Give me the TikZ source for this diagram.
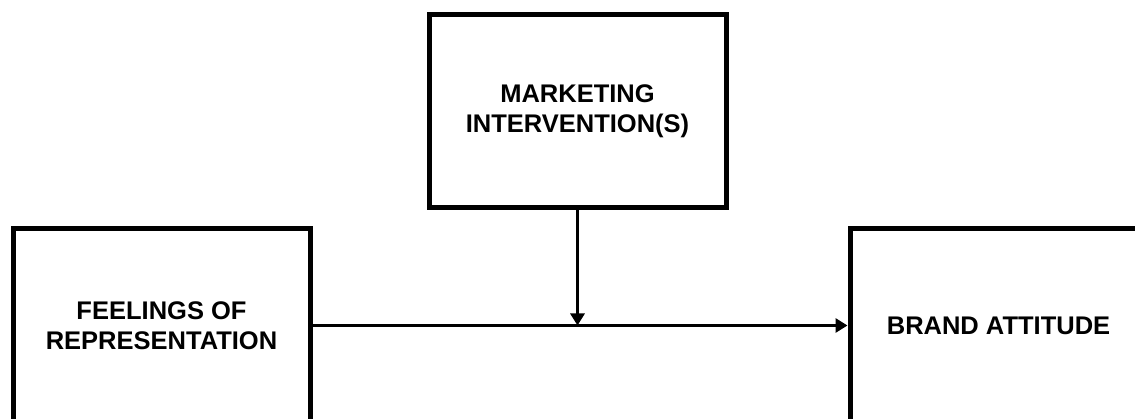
\documentclass[tikz,border=0pt]{standalone}
\usepackage{fontspec}
\setmainfont{Liberation Sans}
\usetikzlibrary{arrows.meta,positioning}

\tikzset{
  factor/.style={draw,line width=5pt,minimum width=297pt,minimum height=193pt,
    align=center,inner sep=0pt,font=\fontsize{25.5}{30}\selectfont\bfseries},
  link/.style={line width=3.8pt,-{Triangle[length=12pt,width=14pt]}}
}

\begin{document}
\begin{tikzpicture}[x=1pt,y=-1pt]
		\useasboundingbox (0,0) rectangle (1135,419);
		\clip (0,0) rectangle (1135,419);
		% the three constructs
		\node[factor] (feel) at (161.5,325.5) {FEELINGS OF\\REPRESENTATION};
		\node[factor] (mkt) at (577.5,111.5) {MARKETING\\INTERVENTION(S)};
		\node[factor] (brand) at (998.5,325.5) {BRAND ATTITUDE};
		% main path and moderator
		\coordinate (meet) at (mkt.south |- feel.east);
		\draw[link] (feel.east) -- (brand.west);
		\draw[link] (mkt.south) -- (meet);
	\end{tikzpicture}
\end{document}
